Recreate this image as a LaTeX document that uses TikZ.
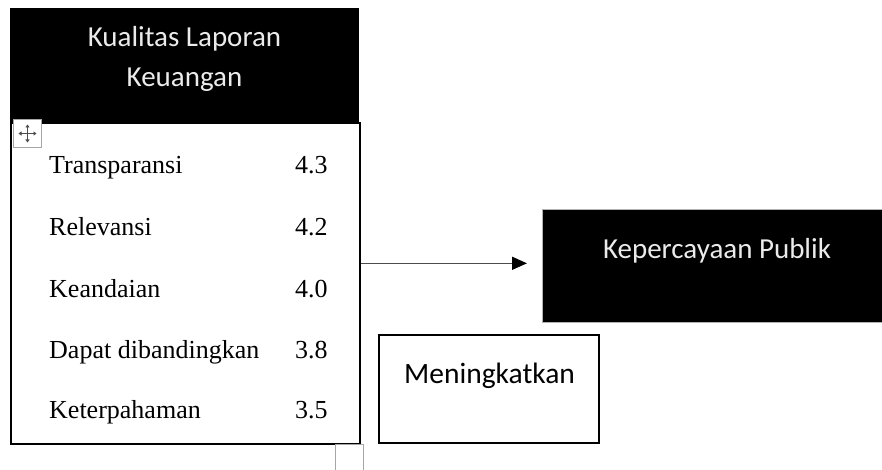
\documentclass[tikz,border=0pt]{standalone}
\usepackage{fontspec}
\setmainfont{Liberation Serif}
\newfontfamily\calibrifont{Carlito}
\usetikzlibrary{arrows.meta}
\begin{document}
\begin{tikzpicture}[x=1pt,y=-1pt,
  rowtext/.style={anchor=base west,inner sep=0pt,font=\fontsize{26}{30}\selectfont},
  hdrtext/.style={anchor=base,inner sep=0pt,text=white!92!black,font=\calibrifont\fontsize{29}{32}\selectfont},
  handle/.style={draw=gray!70,line width=1pt,fill=white,minimum width=28pt,minimum height=28pt,inner sep=0pt,anchor=north west},
  conn/.style={draw=gray!60!black,line width=1.5pt,-{Triangle[length=15pt,width=13pt,color=black]}}]
\useasboundingbox (0,0) rectangle (882,470);
\fill[white] (0,0) rectangle (882,470);
% left table
\node[draw=black,line width=2pt,minimum width=349pt,minimum height=321pt,anchor=north west,inner sep=0pt] (body) at (10,122) {};
\node[fill=black,minimum width=349pt,minimum height=114pt,anchor=north west,inner sep=0pt] (hdr) at (10,8) {};
\node[hdrtext] (h1) at (184.5,47) {Kualitas Laporan};
\node[hdrtext] (h2) at (184.5,87) {Keuangan};
\node[rowtext] (r1) at (49,174) {Transparansi};
\node[rowtext] (v1) at (295,174) {4.3};
\node[rowtext] (r2) at (49,235) {Relevansi};
\node[rowtext] (v2) at (295,235) {4.2};
\node[rowtext] (r3) at (49,297) {Keandaian};
\node[rowtext] (v3) at (295,297) {4.0};
\node[rowtext] (r4) at (49,358) {Dapat dibandingkan};
\node[rowtext] (v4) at (295,358) {3.8};
\node[rowtext] (r5) at (49,418) {Keterpahaman};
\node[rowtext] (v5) at (295,418) {3.5};
% move handle
\node[handle] (mv) at (13,119) {};
\draw[gray!60!black,line width=1pt,{Triangle[length=3pt,width=4pt]}-{Triangle[length=3pt,width=4pt]}] ([xshift=-9pt]mv.center) -- ([xshift=9pt]mv.center);
\draw[gray!60!black,line width=1pt,{Triangle[length=3pt,width=4pt]}-{Triangle[length=3pt,width=4pt]}] ([yshift=-9pt]mv.center) -- ([yshift=9pt]mv.center);
% bottom resize handle
\node[handle,minimum height=30pt] (rs) at (335,444) {};
% right boxes
\node[fill=black,draw=gray!60,line width=0.6pt,minimum width=350pt,minimum height=113pt,anchor=north west,inner sep=0pt] (kp) at (542,209) {};
\node[hdrtext] (kpt) at (717,258) {Kepercayaan Publik};
\node[draw=black,line width=2pt,minimum width=220pt,minimum height=108pt,anchor=north west,inner sep=0pt] (mk) at (378,334) {};
\node[anchor=base west,inner sep=0pt,font=\calibrifont\fontsize{29.5}{32}\selectfont] (mkt) at (404,383) {Meningkatkan};
% connector
\draw[conn] ([yshift=2.5pt]body.east |- kp.west) -- ([xshift=-15pt,yshift=2.5pt]kp.west);
\end{tikzpicture}
\end{document}
